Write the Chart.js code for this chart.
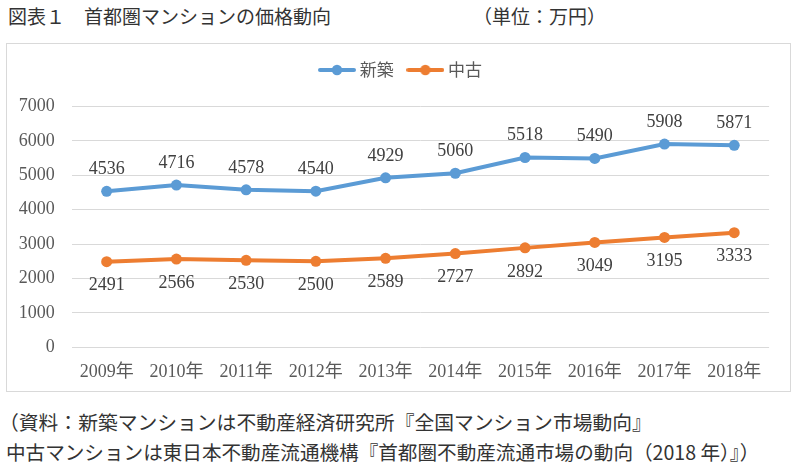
<!DOCTYPE html>
<html><head><meta charset="utf-8">
<script src="https://cdn.jsdelivr.net/npm/chart.js@4/dist/chart.umd.min.js"></script>
<style>
html,body{margin:0;padding:0;background:#fff;}
body{width:800px;height:474px;position:relative;overflow:hidden;font-family:"Noto Sans CJK JP",sans-serif;color:#333;}
.t{position:absolute;white-space:nowrap;font-size:19px;line-height:19px;}
#frame{position:absolute;left:6px;top:43px;width:783px;height:347px;border:1px solid #d9d9d9;}
canvas{display:block;}
</style></head><body>
<div class="t" style="left:8px;top:6px;">図表１　首都圏マンションの価格動向</div>
<div class="t" style="left:473px;top:6px;">（単位：万円）</div>
<div id="frame"><canvas id="c" width="783" height="347"></canvas></div>
<div class="t" style="left:-1px;top:412px;font-size:19.8px;line-height:20px;">（資料：新築マンションは不動産経済研究所『全国マンション市場動向』</div>
<div class="t" style="left:6px;top:442px;font-size:19.6px;line-height:20px;">中古マンションは東日本不動産流通機構『首都圏不動産流通市場の動向（2018 年）』）</div>
<script>
// ---- data ----
const years = ['2009年','2010年','2011年','2012年','2013年','2014年','2015年','2016年','2017年','2018年'];
const seriesNames = ['新築','中古'];
const newBuilt = [4536, 4716, 4578, 4540, 4929, 5060, 5518, 5490, 5908, 5871];
const used = [2491, 2566, 2530, 2500, 2589, 2727, 2892, 3049, 3195, 3333];
const yTicks = [0, 1000, 2000, 3000, 4000, 5000, 6000, 7000];

// ---- styles ----
const COLORS = ['#5B9BD5', '#ED7D31'];
const LABEL_OFFSET = [-22, 24];
const SERIF = '"Liberation Serif", "Noto Sans CJK JP", serif';

function legendIcon(color){
  const c = document.createElement('canvas');
  c.width = 38; c.height = 12;
  const g = c.getContext('2d');
  g.strokeStyle = color; g.lineWidth = 4; g.lineCap = 'round';
  g.beginPath(); g.moveTo(2, 6); g.lineTo(36, 6); g.stroke();
  g.fillStyle = color; g.beginPath(); g.arc(19, 6, 5.2, 0, Math.PI*2); g.fill();
  return c;
}
const icons = COLORS.map(legendIcon);

const pointLabels = {
  id: 'pointLabels',
  afterDatasetsDraw(chart){
    const ctx = chart.ctx;
    chart.data.datasets.forEach((ds, i) => {
      const meta = chart.getDatasetMeta(i);
      ctx.save();
      ctx.font = '18px ' + SERIF;
      ctx.fillStyle = '#404040';
      ctx.textAlign = 'center';
      ctx.textBaseline = 'middle';
      meta.data.forEach((pt, j) => {
        ctx.fillText(String(ds.data[j]), pt.x, pt.y + LABEL_OFFSET[i]);
      });
      ctx.restore();
    });
  }
};

const legendSpace = {
  id: 'legendSpace',
  afterInit(chart){
    const lg = chart.legend;
    if (!lg) return;
    const f = lg.fit;
    lg.fit = function(){ f.call(this); this.height = 62.5; };
  }
};

new Chart(document.getElementById('c'), {
  type: 'line',
  data: {
    labels: years,
    datasets: [newBuilt, used].map((d, i) => ({
      label: seriesNames[i],
      data: d,
      borderColor: COLORS[i],
      backgroundColor: COLORS[i],
      borderWidth: 4,
      pointRadius: 5.5,
      pointHoverRadius: 5.5,
      pointBorderWidth: 0,
      pointBackgroundColor: COLORS[i],
      tension: 0,
      fill: false
    }))
  },
  options: {
    responsive: false,
    animation: false,
    devicePixelRatio: 1,
    layout: { padding: { left: 7.8, right: 0, top: 0, bottom: 9.5 } },
    plugins: {
      tooltip: { enabled: false },
      legend: {
        display: true,
        position: 'top',
        labels: {
          usePointStyle: true,
          pointStyleWidth: 28.4,
          padding: 17.5,
          color: '#595959',
          font: { family: '"Noto Sans CJK JP", sans-serif', size: 17 },
          generateLabels(chart){
            return chart.data.datasets.map((ds, i) => ({
              text: ds.label,
              fillStyle: COLORS[i],
              strokeStyle: COLORS[i],
              lineWidth: 0,
              pointStyle: icons[i],
              fontColor: '#595959',
              hidden: false,
              datasetIndex: i
            }));
          }
        }
      }
    },
    scales: {
      x: {
        offset: true,
        afterFit(s){ s.height = 34.1; },
        grid: { display: false, drawTicks: false },
        border: { display: false },
        ticks: { color: '#595959', font: { family: SERIF, size: 18 }, padding: 14, maxRotation: 0, autoSkip: false }
      },
      y: {
        min: 0, max: 7000,
        afterBuildTicks(s){ s.ticks = yTicks.map(v => ({ value: v })); },
        afterFit(s){ s.width = 57; },
        grid: { color: '#d9d9d9', lineWidth: 1, drawTicks: false },
        border: { display: false },
        ticks: { color: '#595959', font: { family: SERIF, size: 18 }, padding: 17, callback: v => String(v) }
      },
      y2: {
        position: 'right',
        display: true,
        grid: { display: false, drawTicks: false },
        border: { display: false },
        ticks: { display: false },
        afterFit(s){ s.width = 20.9; }
      }
    }
  },
  plugins: [pointLabels, legendSpace]
});
</script>
</body></html>
